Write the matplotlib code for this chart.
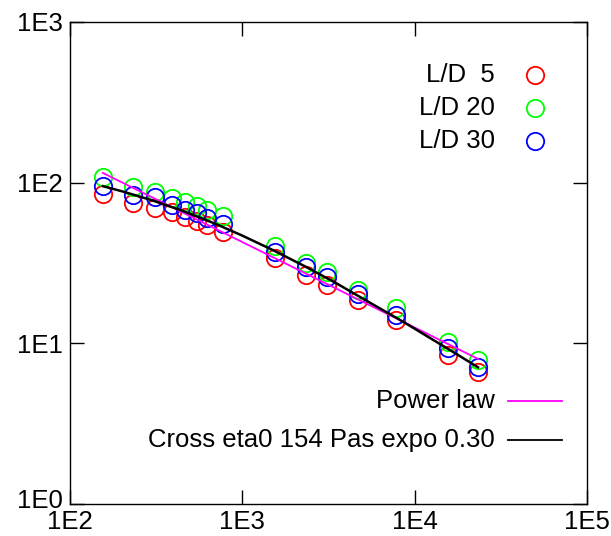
import matplotlib
matplotlib.use('Agg')
import matplotlib.pyplot as plt
import matplotlib.transforms as mtransforms

plt.rcParams['font.family'] = ['Liberation Sans', 'DejaVu Sans']

# shear rate (1/s) and viscosity (Pa.s)
shear = [155, 233, 311, 389, 466, 544, 622, 777, 1554, 2331, 3108, 4662, 7770, 15540, 23310]
eta_ld5 = [85, 75, 70, 66, 61, 58, 54.5, 49, 34, 26.6, 23, 18.6, 14.0, 8.45, 6.63]
eta_ld20 = [108, 94, 87, 80, 76, 71.5, 67.5, 62, 40.3, 31.6, 27.8, 21.5, 16.6, 10.2, 7.87]
eta_ld30 = [95, 84, 81, 73, 67.5, 65, 60, 55, 37, 29.8, 25.9, 20.3, 15.0, 9.35, 7.12]

# fitted curves
power_x = [155, 23310]
power_y = [115, 8.0]
cross_x = [155, 200, 300, 450, 700, 1000, 1500, 2300, 3500, 5500, 8500, 13000, 18000, 23310]
cross_y = [95.1, 88.4, 77.6, 66.8, 55.4, 46.8, 38.1, 30.2, 23.7, 17.9, 13.7, 10.4, 8.42, 7.09]

labels = ['L/D  5', 'L/D 20', 'L/D 30']
colors = ['#ff0000', '#00ff00', '#0000ff']
fs = 18.5

fig = plt.figure(figsize=(6.11, 5.36), dpi=100)
ax = fig.add_axes([0.1146, 0.0597, 0.8461, 0.8993])

for ys, c in zip([eta_ld5, eta_ld20, eta_ld30], colors):
    ax.plot(shear, ys, 'o', ms=12.5, mfc='none', mec=c, mew=1.3, ls='none')

ax.plot(power_x, power_y, color='#ff00ff', lw=1.3)
ax.plot(cross_x, cross_y, color='black', lw=1.8)

ax.set_xscale('log')
ax.set_yscale('log')
ax.set_xlim(1e2, 1e5)
ax.set_ylim(1e0, 1e3)
ax.set_xticks([1e2, 1e3, 1e4, 1e5])
ax.set_xticklabels(['1E2', '1E3', '1E4', '1E5'])
ax.set_yticks([1e0, 1e1, 1e2, 1e3])
ax.set_yticklabels(['1E0', '1E1', '1E2', '1E3'])
ax.minorticks_off()
ax.tick_params(direction='in', length=10, width=1, top=True, right=True,
               labelsize=fs, pad=5)
ax.tick_params(axis='x', pad=4)
for s in ax.spines.values():
    s.set_linewidth(1)

# nudge the bottom y label up a little so it clears 1E2
lab0 = ax.get_yticklabels()[0]
lab0.set_transform(lab0.get_transform() +
                   mtransforms.ScaledTranslation(0, 4 / 72, fig.dpi_scale_trans))

# gnuplot-style key, top right
key_y = [0.890, 0.8216, 0.753]
for lab, c, y in zip(labels, colors, key_y):
    ax.text(0.822, y, lab, transform=ax.transAxes, ha='right', va='center', fontsize=fs)
    ax.plot([0.899], [y], 'o', ms=12.5, mfc='none', mec=c, mew=1.3,
            transform=ax.transAxes, clip_on=False)

# key for fitted curves, bottom right
ax.text(0.822, 0.2137, 'Power law', transform=ax.transAxes, ha='right', va='center', fontsize=fs)
ax.plot([0.847, 0.952], [0.2137, 0.2137], color='#ff00ff', lw=1.3, transform=ax.transAxes)
ax.text(0.822, 0.1328, 'Cross eta0 154 Pas expo 0.30', transform=ax.transAxes,
        ha='right', va='center', fontsize=fs)
ax.plot([0.847, 0.952], [0.1328, 0.1328], color='black', lw=1.3, transform=ax.transAxes)

fig.savefig('out.png', dpi=100)
